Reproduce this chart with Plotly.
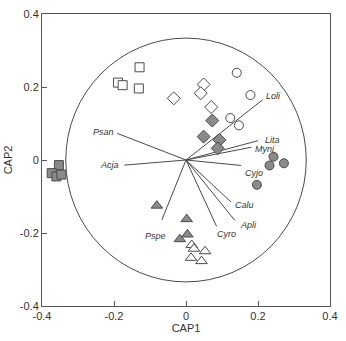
import plotly.graph_objects as go

# --- sample scores (CAP1, CAP2) ---
open_sq_x = [-0.129, -0.189, -0.176, -0.131]
open_sq_y = [0.254, 0.212, 0.205, 0.196]
fill_sq_x = [-0.353, -0.373, -0.360, -0.346]
fill_sq_y = [-0.014, -0.036, -0.045, -0.040]
open_di_x = [-0.034, 0.049, 0.041, 0.070]
open_di_y = [0.169, 0.207, 0.183, 0.145]
fill_di_x = [0.073, 0.049, 0.093, 0.088]
fill_di_y = [0.108, 0.064, 0.055, 0.032]
open_ci_x = [0.141, 0.179, 0.123, 0.147]
open_ci_y = [0.239, 0.178, 0.115, 0.095]
fill_ci_x = [0.243, 0.232, 0.272, 0.197]
fill_ci_y = [0.009, -0.015, -0.009, -0.068]
fill_tr_x = [-0.081, 0.002, 0.004, -0.017]
fill_tr_y = [-0.125, -0.162, -0.204, -0.217]
open_tr_x = [0.016, 0.022, 0.053, 0.014, 0.043]
open_tr_y = [-0.233, -0.243, -0.250, -0.268, -0.277]

# --- species vectors ---
species = ["Loli", "Lita", "Myni", "Cyjo", "Calu", "Apli", "Cyro", "Pspe", "Acja", "Psan"]
vec_x = [0.213, 0.200, 0.182, 0.153, 0.125, 0.136, 0.085, -0.067, -0.171, -0.191]
vec_y = [0.165, 0.053, 0.035, -0.015, -0.115, -0.166, -0.182, -0.164, -0.014, 0.073]

circle_r = 0.334
x_ticks = [-0.4, -0.2, 0, 0.2, 0.4]
y_ticks = [-0.4, -0.2, 0, 0.2, 0.4]
x_ticklabels = ["-0.4", "-0.2", "0", "0.2", "0.4"]
y_ticklabels = ["-0.4", "-0.2", "0", "0.2", "0.4"]

# label placement styles (anchor, xshift, yshift)
label_style = {
    "Loli": ("left", 1, 4), "Lita": ("left", 5, 1), "Myni": ("left", 1, -2),
    "Cyjo": ("left", 2, -8), "Calu": ("left", 2, -3), "Apli": ("left", 3, -4),
    "Cyro": ("left", -2, -8), "Pspe": ("center", -6, -16), "Acja": ("right", -3, 0),
    "Psan": ("right", -1, 1),
}

LINE = "#4a4a4a"
GRAY = "#8a8a8a"
FONT = "Liberation Sans, Arial"
fig = go.Figure()

# vectors
for name, vx, vy in zip(species, vec_x, vec_y):
    fig.add_trace(go.Scatter(x=[0, vx], y=[0, vy], mode="lines",
                             line=dict(color=LINE, width=1), showlegend=False,
                             hoverinfo="skip"))
    anc, xs, ys = label_style[name]
    fig.add_annotation(x=vx, y=vy, text="<i>" + name + "</i>", showarrow=False,
                       xanchor=anc, yanchor="middle", xshift=xs, yshift=ys,
                       font=dict(family=FONT, size=9, color="#333"))

def pts(x, y, symbol, fill, size=10):
    fig.add_trace(go.Scatter(x=x, y=y, mode="markers", showlegend=False,
                             marker=dict(symbol=symbol, size=size, color=fill,
                                         line=dict(color=LINE, width=1))))

pts(open_sq_x, open_sq_y, "square", "white", 9)
pts(fill_sq_x, fill_sq_y, "square", GRAY, 9)
pts(open_di_x, open_di_y, "diamond", "white", 10)
pts(fill_di_x, fill_di_y, "diamond", GRAY, 10)
pts(open_ci_x, open_ci_y, "circle", "white", 9)
pts(fill_ci_x, fill_ci_y, "circle", GRAY, 9)
pts(fill_tr_x, fill_tr_y, "triangle-up", GRAY, 10)
pts(open_tr_x, open_tr_y, "triangle-up", "white", 10)

fig.add_shape(type="circle", xref="x", yref="y", x0=-circle_r, y0=-circle_r,
              x1=circle_r, y1=circle_r, line=dict(color=LINE, width=1), layer="below")

axis_common = dict(showgrid=False, zeroline=False, showline=True, mirror=True,
                   linecolor="#555", linewidth=1, ticks="inside", ticklen=5,
                   tickcolor="#555", tickfont=dict(family=FONT, size=11, color="#333"))
fig.update_xaxes(range=[-0.4, 0.4], tickvals=x_ticks, ticktext=x_ticklabels,
                 title=dict(text="CAP1", standoff=3,
                            font=dict(family=FONT, size=11, color="#333")),
                 **axis_common)
fig.update_yaxes(range=[-0.4, 0.4], tickvals=y_ticks, ticktext=y_ticklabels,
                 title=dict(text="CAP2", standoff=4,
                            font=dict(family=FONT, size=11, color="#333")),
                 **axis_common)
fig.update_layout(width=346, height=341, margin=dict(l=38, r=8, t=10, b=28),
                  plot_bgcolor="white", paper_bgcolor="white")
fig.write_html("out.html")
